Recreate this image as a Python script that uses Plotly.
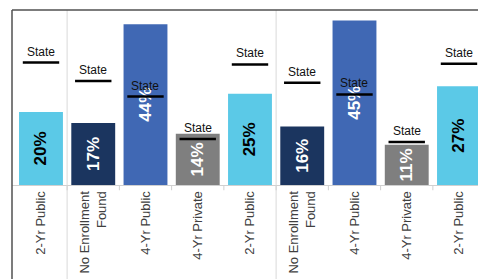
import plotly.graph_objects as go

labels = ["2-Yr Public", "No Enrollment<br>Found", "4-Yr Public", "4-Yr Private", "2-Yr Public",
          "No Enrollment<br>Found", "4-Yr Public", "4-Yr Private", "2-Yr Public"]
values = [20, 17, 44, 14, 25, 16, 45, 11, 27]
state_values = [33.5, 28.5, 24.2, 12.6, 33.0, 28.0, 24.8, 11.8, 33.2]
bar_colors = ["#5BC9E7", "#1B355F", "#4068B4", "#7F7F7F", "#5BC9E7",
              "#1B355F", "#4068B4", "#7F7F7F", "#5BC9E7"]
text_colors = ["#000000", "#FFFFFF", "#FFFFFF", "#FFFFFF", "#000000",
               "#FFFFFF", "#FFFFFF", "#FFFFFF", "#000000"]
group_dividers = [0.5, 4.5]

FONT = "Arial, Liberation Sans, sans-serif"
xs = list(range(len(values)))

fig = go.Figure()
fig.add_trace(go.Bar(
    x=xs, y=values, width=0.84,
    marker=dict(color=bar_colors, line=dict(width=0)),
    text=[f"{v}%" for v in values],
    textposition="inside", insidetextanchor="middle", textangle=-90,
    textfont=dict(family=FONT, size=17, color=text_colors, weight="bold"),
    constraintext="none", cliponaxis=True,
    showlegend=False, hoverinfo="skip",
))
fig.add_trace(go.Scatter(
    x=xs, y=state_values, mode="markers",
    marker=dict(symbol="line-ew", size=26, line=dict(width=2.5, color="#000000")),
    showlegend=False, hoverinfo="skip", cliponaxis=False,
))
for i, sv in enumerate(state_values):
    fig.add_annotation(x=i, y=sv, text="State", showarrow=False, yanchor="bottom",
                       yshift=2, font=dict(family=FONT, size=12, color="#111111"))

shapes = []
# group dividers
for d in group_dividers:
    shapes.append(dict(type="line", xref="x", yref="paper", x0=d, x1=d, y0=-0.6, y1=1,
                       line=dict(color="#D9D9D9", width=1)))
# boundary ticks
for i in range(len(values) - 1):
    shapes.append(dict(type="line", xref="x", yref="paper", x0=i + 0.5, x1=i + 0.5,
                       y0=0, y1=-0.03, line=dict(color="#D0D0D0", width=1)))
# top border
shapes.append(dict(type="line", xref="paper", yref="paper", x0=0, x1=1.05, y0=1, y1=1,
                   line=dict(color="#505050", width=1.5)))
# left border
shapes.append(dict(type="line", xref="paper", yref="paper", x0=0, x1=0, y0=-0.6, y1=1,
                   line=dict(color="#505050", width=1.5)))

fig.update_layout(
    width=478, height=279,
    margin=dict(l=12, r=0, t=10, b=94),
    paper_bgcolor="white", plot_bgcolor="white",
    shapes=shapes,
    xaxis=dict(range=[-0.555, 8.364], tickmode="array", tickvals=xs, ticktext=labels,
               tickangle=-90, tickfont=dict(family=FONT, size=13, color="#404040"),
               showline=True, linecolor="#D0D0D0", linewidth=1, showgrid=False,
               zeroline=False, ticks="", fixedrange=True, automargin=False),
    yaxis=dict(range=[0, 47.9], visible=False, showgrid=False, zeroline=False,
               fixedrange=True),
)

fig.write_html(
    "out.html",
    config={"displayModeBar": False, "staticPlot": True},
    post_script=("document.documentElement.style.margin='0';"
                 "document.documentElement.style.overflow='hidden';"
                 "document.body.style.margin='0';"
                 "document.body.style.overflow='hidden';"),
)
